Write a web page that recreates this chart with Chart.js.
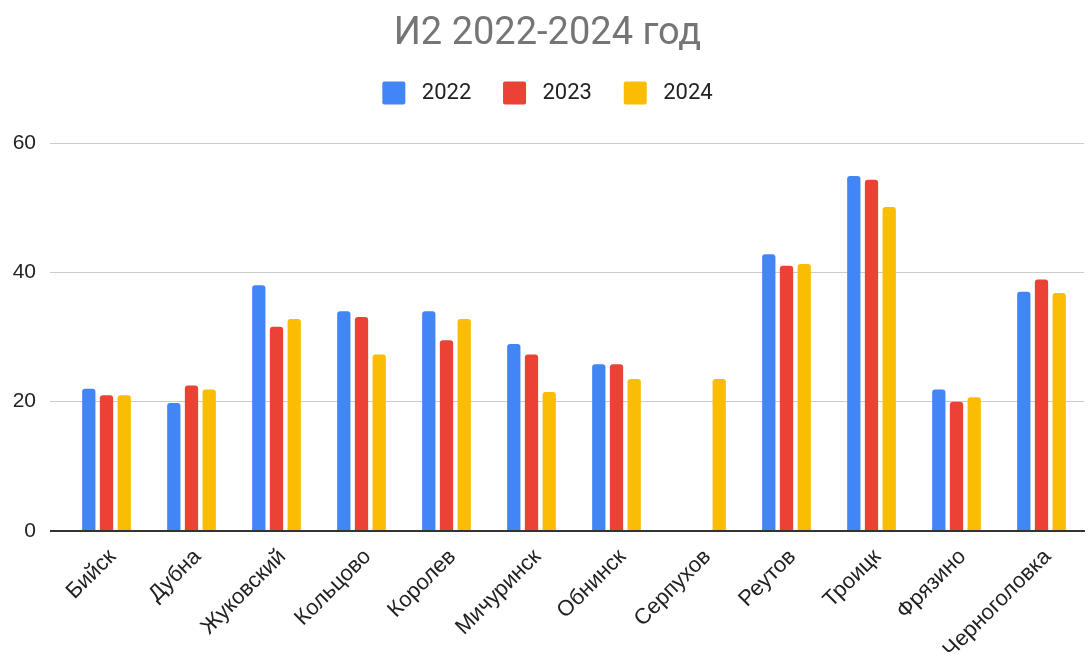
<!DOCTYPE html>
<html>
<head>
<meta charset="utf-8">
<script src="https://cdn.jsdelivr.net/npm/chart.js@4"></script>
<style>
  html, body { margin: 0; padding: 0; background: #fff; }
</style>
</head>
<body>
<canvas id="chart" width="1090" height="659"></canvas>
<script>
const cities = ['Бийск', 'Дубна', 'Жуковский', 'Кольцово', 'Королев', 'Мичуринск',
    'Обнинск', 'Серпухов', 'Реутов', 'Троицк', 'Фрязино', 'Черноголовка']
const years = ['2022', '2023', '2024']
const v2022 = [22, 19.8, 38, 34, 34, 28.9, 25.8, null, 42.8, 54.9, 21.9, 37]
const v2023 = [21, 22.5, 31.6, 33.1, 29.5, 27.3, 25.8, null, 41, 54.3, 20, 38.9]
const v2024 = [21, 21.9, 32.8, 27.3, 32.8, 21.5, 23.5, 23.5, 41.3, 50.1, 20.7, 36.8]
const yMin = 0
const yMax = 60
const yStep = 20

const colors = ['#4285F4', '#EA4335', '#FBBC04']
const series = [v2022, v2023, v2024]

const ctx = document.getElementById('chart')

new Chart(ctx, {
    type: 'bar',
    data: {
        labels: cities,
        datasets: years.map((y, i) => ({
            label: y,
            data: series[i],
            backgroundColor: colors[i],
            borderRadius: 3,
            categoryPercentage: 0.625,
            barPercentage: 0.75
        }))
    },
    options: {
        responsive: false,
        animation: false,
        layout: { padding: { left: 11, right: 6 } },
        plugins: {
            title: {
                display: true,
                text: 'И2 2022-2024 год',
                color: '#757575',
                font: { family: 'Roboto', size: 38, weight: 'normal', lineHeight: 0.8 },
                padding: { top: 19.3, bottom: 0 }
            },
            legend: {
                labels: {
                    boxWidth: 23,
                    boxHeight: 23,
                    padding: 31.8,
                    color: '#222',
                    useBorderRadius: true,
                    borderRadius: 2,
                    font: { family: 'Roboto', size: 22 },
                    // a little more room between swatch and text
                    generateLabels: (chart) => Chart.defaults.plugins.legend.labels
                        .generateLabels(chart).map(l => ({ ...l, text: ' ' + l.text }))
                }
            },
            // empty spacer between legend and plot
            subtitle: {
                display: true,
                text: '',
                weight: 500,
                padding: 0,
                font: { size: 23.75, lineHeight: 1.2 }
            },
            tooltip: { enabled: false }
        },
        scales: {
            x: {
                grid: { display: false },
                border: { display: true, color: '#333', width: 2 },
                ticks: {
                    autoSkip: false,
                    minRotation: 45,
                    maxRotation: 45,
                    color: '#222',
                    padding: 5,
                    labelOffset: 6,
                    font: { family: 'Liberation Sans', size: 22 }
                },
                afterFit: (s) => { s.height = 128 }
            },
            y: {
                min: yMin,
                max: yMax,
                border: { display: false },
                grid: {
                    color: (c) => c.tick.value === 0 ? '#333' : '#ccc',
                    lineWidth: (c) => c.tick.value === 0 ? 2 : 1,
                    tickLength: 14
                },
                ticks: {
                    stepSize: yStep,
                    color: '#222',
                    padding: 14,
                    font: { family: 'Liberation Sans', size: 21 }
                },
                afterFit: (s) => { s.width = 53 }
            }
        }
    }
})
</script>
</body>
</html>
